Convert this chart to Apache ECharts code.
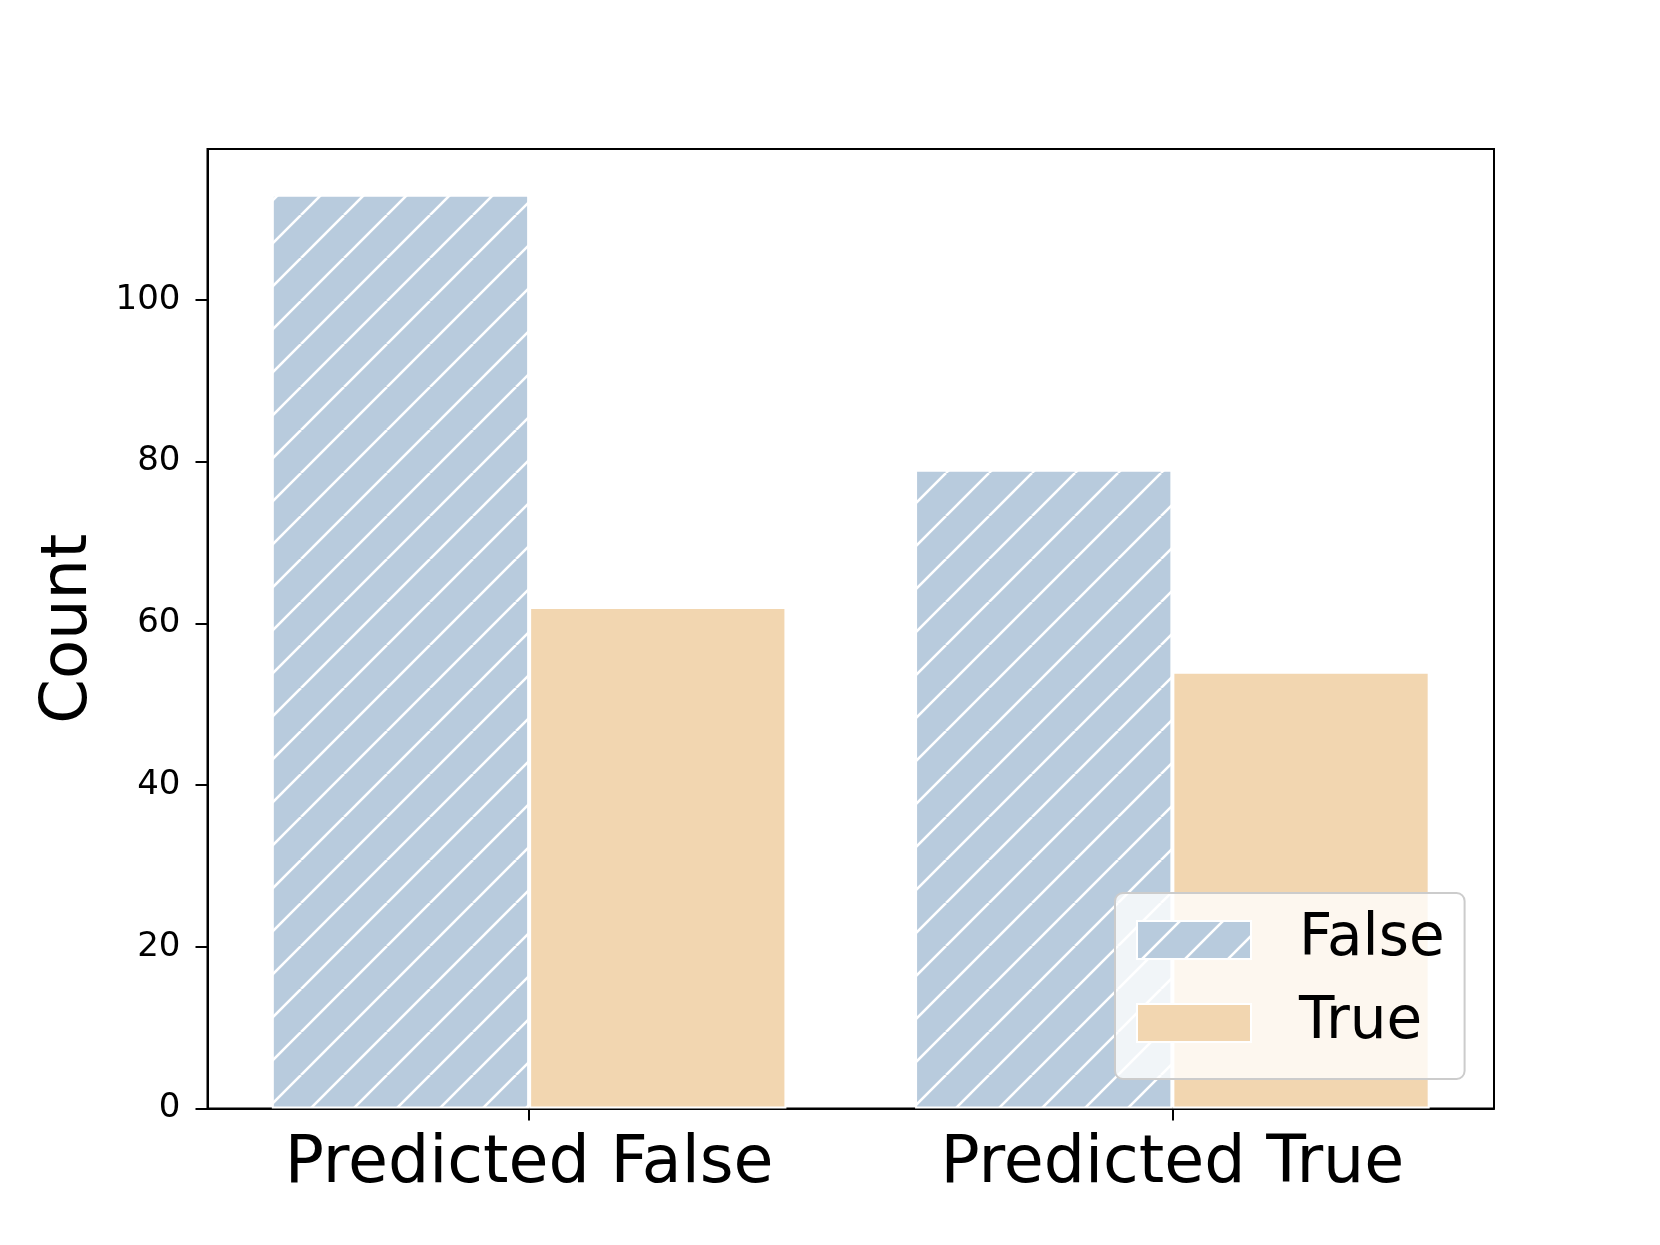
<!DOCTYPE html>
<html>
<head>
<meta charset="utf-8">
<script src="https://cdn.jsdelivr.net/npm/echarts@6/dist/echarts.min.js"></script>
<style>
html,body{margin:0;padding:0;background:#fff;}
#chart{width:1660px;height:1245px;}
</style>
</head>
<body>
<div id="chart"></div>
<script>
var categories = ['Predicted False', 'Predicted True'];
var falseValues = [113, 79];
var trueValues = [62, 54];
var seriesNames = ['False', 'True'];
var yTicks = [0, 20, 40, 60, 80, 100];

var BLUE = '#b8cbdd';
var ORANGE = '#f2d6b0';

function makeHatch(bg, size) {
  var c = document.createElement('canvas');
  c.width = size; c.height = size;
  var ctx = c.getContext('2d');
  ctx.fillStyle = bg;
  ctx.fillRect(0, 0, size, size);
  ctx.strokeStyle = '#ffffff';
  ctx.lineWidth = 2.6;
  for (var k = -1; k <= 1; k++) {
    ctx.beginPath();
    ctx.moveTo(k * size, size);
    ctx.lineTo(k * size + size, 0);
    ctx.stroke();
  }
  return c;
}

var hatch = makeHatch(BLUE, 43);

var chart = echarts.init(document.getElementById('chart'), null, {renderer: 'canvas'});
var FONT = 'DejaVu Sans';
chart.setOption({
  backgroundColor: '#ffffff',
  animation: false,
  textStyle: {fontFamily: FONT},
  grid: {
    left: 207.5, right: 166, top: 149, bottom: 136.5,
    show: true, borderColor: '#000', borderWidth: 2, backgroundColor: 'transparent'
  },
  legend: {
    orient: 'vertical',
    left: 1115, top: 893,
    backgroundColor: 'rgba(255,255,255,0.8)',
    borderColor: '#cccccc', borderWidth: 2, borderRadius: 8,
    padding: [18, 20, 27, 21],
    icon: 'rect',
    itemWidth: 114, itemHeight: 38, itemGap: 25,
    textStyle: {fontSize: 58, color: '#000', fontFamily: FONT, lineHeight: 38, padding: [0, 0, 0, 43]},
    data: seriesNames
  },
  xAxis: {
    type: 'category',
    data: categories,
    axisLine: {lineStyle: {color: '#000', width: 2}},
    axisTick: {show: true, alignWithLabel: true, length: 12, lineStyle: {color: '#000', width: 2}},
    axisLabel: {fontSize: 65, color: '#000', margin: 24, fontFamily: FONT},
    splitLine: {show: false}
  },
  yAxis: {
    type: 'value',
    min: 0, max: 118.65, interval: 20,
    name: 'Count', nameLocation: 'middle', nameGap: 106,
    nameTextStyle: {fontSize: 64, color: '#000', fontFamily: FONT},
    axisLine: {show: true, lineStyle: {color: '#000', width: 2}},
    axisTick: {show: true, length: 12, lineStyle: {color: '#000', width: 2}, customValues: yTicks},
    axisLabel: {fontSize: 34, color: '#000', margin: 27, fontFamily: FONT, customValues: yTicks},
    splitLine: {show: false}
  },
  series: [
    {
      name: seriesNames[0], type: 'bar', data: falseValues,
      barWidth: '40%', barGap: '0%',
      itemStyle: {color: {image: hatch, repeat: 'repeat'}, borderColor: '#fff', borderWidth: 2}
    },
    {
      name: seriesNames[1], type: 'bar', data: trueValues,
      barWidth: '40%', barGap: '0%',
      itemStyle: {color: ORANGE, borderColor: '#fff', borderWidth: 2}
    }
  ]
});
</script>
</body>
</html>
